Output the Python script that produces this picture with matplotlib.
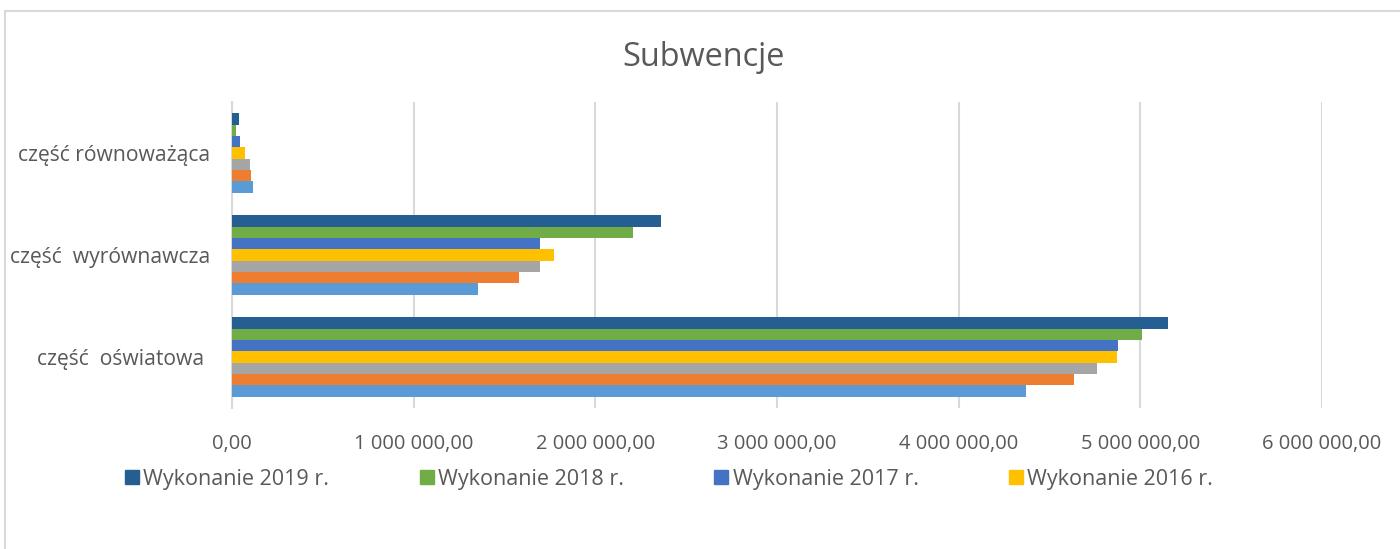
import numpy as np
import matplotlib
matplotlib.use('Agg')
import matplotlib.pyplot as plt
from matplotlib.patches import Patch, Rectangle

# categories from bottom to top (excel draws the first category at the bottom)
categories = ['część  oświatowa ', 'część  wyrównawcza', 'część równoważąca']

# series in excel order (first one drawn lowest inside each group)
series_names = ['Wykonanie 2013 r.', 'Wykonanie 2014 r.', 'Wykonanie 2015 r.',
                'Wykonanie 2016 r.', 'Wykonanie 2017 r.', 'Wykonanie 2018 r.',
                'Wykonanie 2019 r.']
wyk_2013 = [4368000, 1355000, 114000]
wyk_2014 = [4635000, 1582000, 106000]
wyk_2015 = [4764000, 1694000, 100000]
wyk_2016 = [4873000, 1773000, 70000]
wyk_2017 = [4877000, 1696000, 44000]
wyk_2018 = [5010000, 2209000, 21000]
wyk_2019 = [5150000, 2363000, 36000]
x_ticks = [0, 1000000, 2000000, 3000000, 4000000, 5000000, 6000000]
legend_names = ['Wykonanie 2019 r.', 'Wykonanie 2018 r.', 'Wykonanie 2017 r.', 'Wykonanie 2016 r.']

colors = ['#5B9BD5', '#ED7D31', '#A5A5A5', '#FFC000', '#4472C4', '#70AD47', '#255E91']
text_color = '#595959'
grid_color = '#D9D9D9'

plt.rcParams['font.family'] = ['Open Sans', 'DejaVu Sans']


def pl_format(v):
    # polish number format: space as thousands separator, comma as decimal mark
    s = '{:,.2f}'.format(v)
    return s.replace(',', ' ').replace('.', ',')


fig = plt.figure(figsize=(14, 5.49), dpi=100)
ax = fig.add_axes([232 / 1400, 1 - 408 / 549, (1322 - 232) / 1400, 306 / 549])

values = [wyk_2013, wyk_2014, wyk_2015, wyk_2016, wyk_2017, wyk_2018, wyk_2019]
y = np.arange(len(categories))
bar_h = 0.111
for i, (name, vals) in enumerate(zip(series_names, values)):
    ax.barh(y + (i - 3) * bar_h, vals, height=bar_h, color=colors[i], label=name, zorder=3)

ax.set_xlim(0, 6000000)
ax.set_ylim(-0.5, 2.5)
ax.set_xticks(x_ticks)
ax.set_xticklabels([pl_format(v) for v in x_ticks])
ax.set_yticks(y)
ax.set_yticklabels(categories)
ax.tick_params(axis='x', length=0, pad=19, labelsize=14.5, labelcolor=text_color)
ax.tick_params(axis='y', length=0, pad=16, labelsize=15.2, labelcolor=text_color)
ax.grid(axis='x', color=grid_color, linewidth=1.5, zorder=0)
for side in ['top', 'right', 'bottom']:
    ax.spines[side].set_visible(False)
ax.spines['left'].set_color(grid_color)
ax.spines['left'].set_linewidth(1.5)

fig.text(703 / 1400, 1 - 58 / 549, 'Subwencje', ha='center', va='center',
         fontsize=23.4, color=text_color)

# legend only lists the four latest years
handles = [Patch(color=colors[series_names.index(n)]) for n in legend_names]
fig.legend(handles, legend_names, loc='center left', bbox_to_anchor=(125 / 1400, 1 - 479 / 549),
           ncol=4, frameon=False, fontsize=15.5, labelcolor=text_color,
           handlelength=0.65, handleheight=0.65, handletextpad=0.2, columnspacing=4.2,
           borderpad=0, borderaxespad=0)

# chart area border (cut off at right and bottom in the original)
fig.add_artist(Rectangle((5 / 1400, -0.1), 1.2, 1.1 - 11 / 549, transform=fig.transFigure,
                         fill=False, edgecolor=grid_color, linewidth=1.5))

fig.savefig('out.png', dpi=100)
